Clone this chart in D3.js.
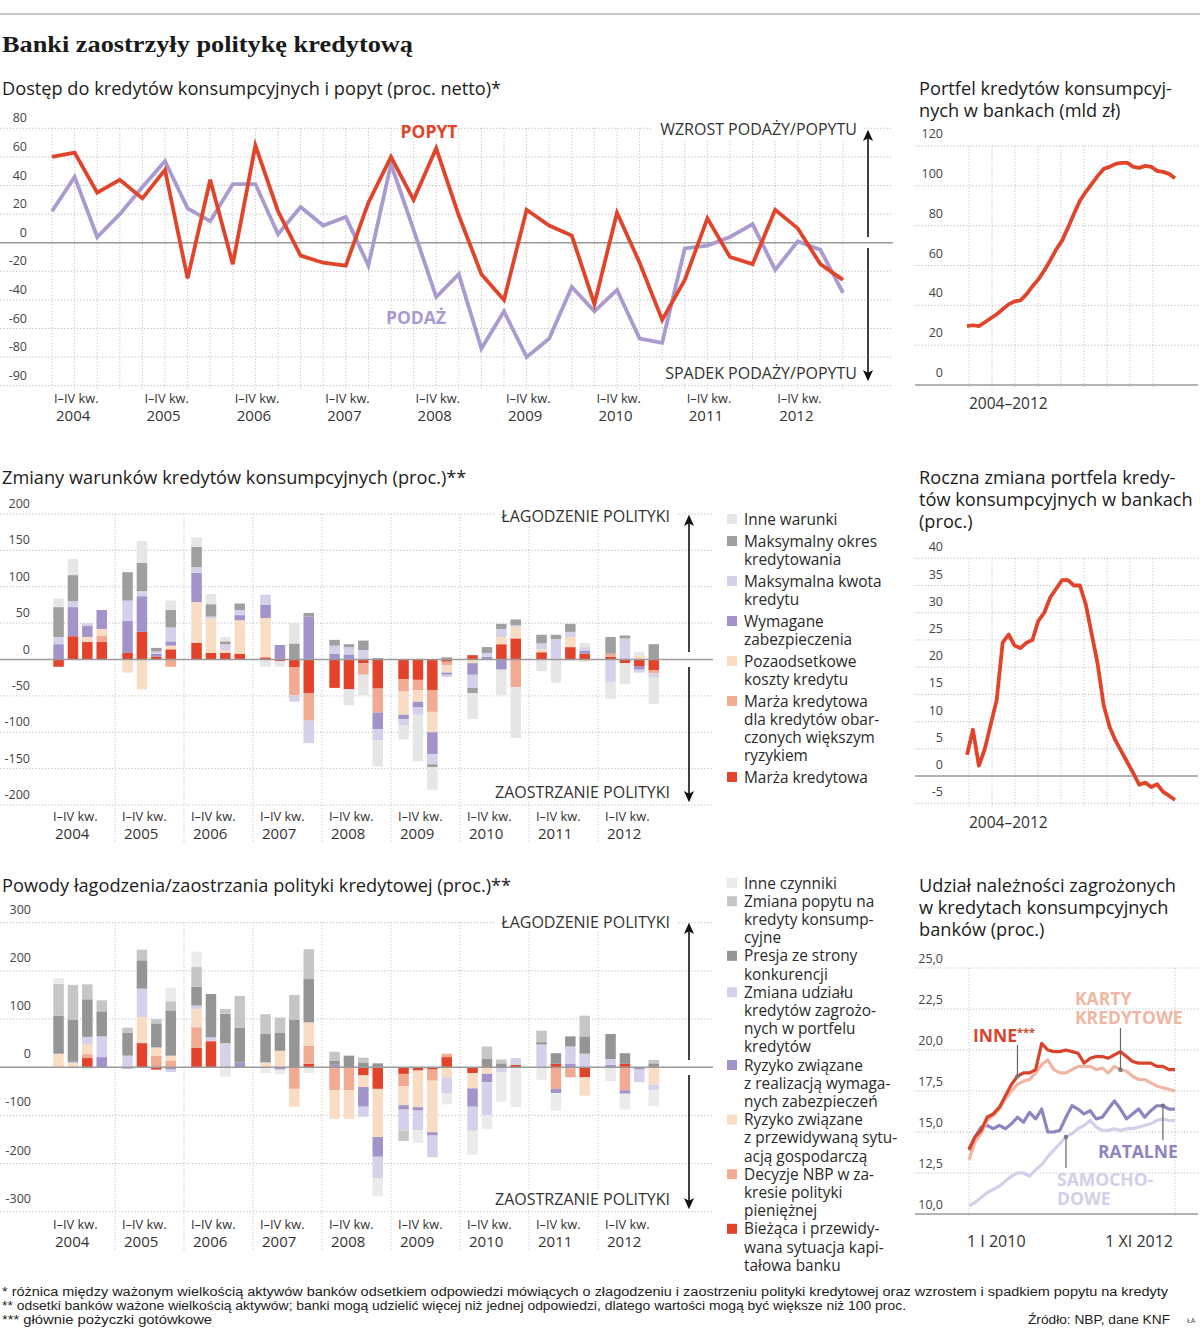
<!DOCTYPE html>
<html>
<head>
<meta charset="utf-8">
<script src="https://cdn.jsdelivr.net/npm/d3@7"></script>
<style>
body { margin: 0; background: #fff; }
svg text { font-family: "Open Sans", "Noto Sans", sans-serif; fill: #222; }
</style>
</head>
<body>
<div id="chart"></div>
<script>
// --- data ---
var years = ["2004", "2005", "2006", "2007", "2008", "2009", "2010", "2011", "2012"];
var quarterText = "I–IV kw.";

// chart 1: net % (quarters 2004Q1..2012Q4)
var popyt = [60, 63, 35, 44, 31, 51, -25, 44, -15, 68, 22, -9, -14, -16, 28, 60, 30, 66,
             19, -22, -40, 23, 12, 5, -43, 21, -14, -54, -26, 17, -10, -15, 23, 10, -15, -26];
var podaz = [22, 46, 4, 20, 39, 57, 24, 15, 41, 41, 6, 25, 12, 18, -16, 55, 9, -38,
             -22, -74, -48, -80, -67, -31, -48, -33, -67, -70, -4, -2, 4, 13, -19, 1, -5, -35];
var ticks1 = [80, 60, 40, 20, 0, -20, -40, -60, -80, -100];
var tickLabels1 = ["80", "60", "40", "20", "0", "-20", "-40", "-60", "-80", "-90"];

// chart 2: portfolio, bn zł (quarterly)
var portfel = [29.5, 30, 29.5, 31.5, 33.5, 35.5, 38, 40.5, 42, 42.5, 45.5, 49.5, 53, 57.5, 62.5, 68, 72.5, 79,
               86, 92.5, 97, 101, 105, 108.5, 109.5, 111, 111.5, 111.5, 109.5, 109, 110, 109.5, 107.5, 107, 106, 103.8];
var ticks2 = [0, 20, 40, 60, 80, 100, 120];

// chart 3: changes of credit terms (%)
var c3Keys = ["Marża kredytowa", "Marża ryzyko", "Pozaodsetkowe", "Zabezpieczenia", "Kwota", "Okres", "Inne"];
var c3Marza = [-10, 32, 24, 24, 9, 38, 4, 14, 23, 9, 9, 8, 3, -2, -11, -46, -39, -41, -5, -40,
               -27, -28, -42, -3, 6, 0, 21, 29, 10, 1, 17, 8, 4, -5, -9, -15];
var c3Ryzyko = [0, 0, 0, 9, 0, 0, 0, -10, 0, 0, 0, 0, 0, 0, -38, -38, 0, 0, -16, -33,
                -17, -14, -30, -5, 0, 0, 0, -38, 0, 0, 0, 0, 4, 0, 0, -4];
var c3Poza = [0, 0, 7, 9, -18, -41, 0, 5, 56, 47, 4, 46, 54, 0, 0, 0, 0, 0, 0, 0,
              -32, -16, -28, -10, -5, 0, 10, 16, 4, 0, 14, -3, 0, 0, 5, 0];
var c3Zab = [21, 40, 15, 26, 44, 49, 4, 6, 40, 0, 0, 7, 18, 20, 0, 59, 8, 7, 0, -23,
             -6, -8, -30, -3, -16, 4, -14, 0, 0, 0, 0, 4, 0, 0, -5, 0];
var c3Kwota = [10, 8, 4, 0, 28, 7, 3, 19, 8, 3, 8, 7, 14, 0, -9, -31, 11, 10, 13, -15,
               -8, -10, -14, -3, -18, 5, 11, 2, 8, 27, 7, 5, -31, 29, -4, -6];
var c3Okres = [41, 36, 0, 0, 39, 39, 5, 24, 28, 17, 4, 9, 0, 0, 22, 5, 8, 4, 13, 2,
               0, 0, -4, 3, -7, 8, 7, 8, 12, 6, 11, 0, 23, 4, 0, 21];
var c3Inne = [12, 22, 0, 0, 0, 30, 0, 13, 13, 14, 6, 0, -10, -8, 28, 0, 0, -22, -28, -36,
              -20, -64, -31, 0, -36, 0, -35, -70, -16, -32, -2, 6, -23, -29, 5, -36];
var ticks3 = [200, 150, 100, 50, 0, -50, -100, -150, -200];

// chart 4: yearly change of portfolio (%)
var roczna = [3.9, 8.5, 1.9, 5, 9.5, 14, 24.5, 26, 24, 23.5, 24.5, 25, 28.5, 30, 32.8, 34.4, 36, 36,
              35, 35, 31.5, 26, 20.5, 13, 9, 6.5, 4.5, 2.5, 0.5, -1.6, -1.2, -2, -1.5, -2.9, -3.6, -4.4];
var ticks4 = [40, 35, 30, 25, 20, 15, 10, 5, 0, -5];

// chart 5: reasons (%)
var c5Biezaca = [0, 0, 19, 0, 0, 50, -5, 0, 40, 54, 0, 0, 0, 0, 0, 7, 0, 0, -17, -45,
                 -14, -7, -5, 21, -12, 0, 0, 5, 0, 7, 0, -21, 0, 7, 0, 0];
var c5Nbp = [0, 0, 8, 0, 0, 0, 24, 14, 43, 0, 0, 0, 0, 0, -45, 38, -48, -48, 0, 0,
             -26, 0, -23, 7, 0, 0, 0, 0, 0, -45, -21, 0, 0, -48, 0, 0];
var c5Gosp = [28, 10, 21, 0, 0, 54, 17, 10, 38, 0, 0, 0, 10, 34, -37, 48, -59, -59, -24, -100,
              -39, -76, -107, -21, -32, -14, 0, 0, 0, 0, 0, -38, 0, 0, 0, -36];
var c5Zabezp = [0, 3, 0, 21, -3, 0, 0, -5, 0, 0, 0, 10, 0, -5, 0, 0, 5, 0, -41, -41,
                -9, -7, -7, 0, -38, -17, 0, 0, 0, -9, 7, 0, 5, -7, -5, 0];
var c5Udzial = [0, 0, 15, 43, 24, 59, 0, -5, 7, 8, 50, 0, 0, 0, 0, 0, 0, 0, -21, -45,
                -44, -41, -45, -34, -50, -69, -10, 14, 47, 0, 36, 28, 12, 0, -26, -11];
var c5Konk = [79, 86, 78, 52, 48, 59, 50, 94, 39, 90, 61, 72, 59, 38, 98, 90, 8, 24, 10, 8,
              0, 0, 0, 0, 0, 17, 8, 0, 5, 22, 21, 36, 52, 22, 0, 8];
var c5Popyt = [66, 72, 31, 23, 10, 22, 9, 19, 41, 0, 10, 66, 41, 31, 52, 62, 19, 0, 10, 0,
               -21, 0, 0, 0, 0, 26, 8, 0, 24, 0, 0, 43, 0, 0, 0, 7];
var c5Inne = [12, 0, -5, 0, 0, 0, 0, 28, 32, 0, -20, 0, -12, -10, 0, -12, 0, 0, 0, -37,
              0, -26, 0, -22, -50, -28, -62, -83, -26, -36, 0, 0, -29, -33, 0, -34];
var ticks5 = [300, 200, 100, 0, -100, -200, -300];

// chart 6: share of bad loans (%), monthly I 2010 .. XI 2012
var inne6 = [13.9, 14.7, 15.1, 15.9, 16.1, 16.5, 17.2, 17.9, 18.4, 18.6, 18.6, 18.8, 20.4, 20.0, 19.9, 19.9, 20.0, 19.9,
             19.8, 19.2, 19.5, 19.6, 19.6, 19.5, 19.7, 19.9, 19.6, 19.3, 19.2, 19.2, 19.2, 19.0, 19.0, 18.8, 18.8];
var karty6 = [13.3, 14.4, 14.9, 15.7, 16.0, 16.4, 17.0, 17.5, 17.9, 18.1, 18.2, 18.6, 19.1, 19.4, 18.8, 18.6, 18.6, 18.8,
              19.0, 19.0, 19.0, 18.8, 18.9, 18.6, 19.0, 18.8, 18.7, 18.4, 18.2, 18.2, 18.0, 17.8, 17.7, 17.6, 17.5];
var ratalne6 = [14.0, 14.7, 15.3, 15.4, 15.2, 15.4, 15.2, 15.5, 15.9, 15.6, 16.2, 15.8, 16.4, 15.0, 15.0, 15.1, 15.9, 16.6,
                16.4, 16.1, 16.3, 15.8, 15.9, 16.4, 16.9, 16.4, 15.8, 16.1, 16.4, 15.9, 16.3, 16.6, 16.6, 16.4, 16.4];
var samoch6 = [10.5, 10.7, 11.0, 11.3, 11.5, 11.7, 12.0, 12.3, 12.5, 12.5, 12.3, 12.7, 13.0, 13.5, 13.9, 14.3, 14.7, 14.9,
               15.2, 15.4, 15.7, 15.3, 15.1, 15.1, 15.2, 15.1, 15.2, 15.2, 15.3, 15.4, 15.5, 15.7, 15.8, 15.7, 15.7];
var ticks6 = [25, 22.5, 20, 17.5, 15, 12.5, 10];

// --- colours ---
var red = "#e2432a", salmon = "#f1ab93", peach = "#f8dcc4", purple = "#a294ca",
    lavender = "#d6d1ea", dark = "#9d9d9d", mid = "#c6c6c6", light = "#e6e6e6";

var svg = d3.select("#chart").append("svg")
    .attr("width", 1200)
    .attr("height", 1328)
    .style("background", "#fff");

var defs = svg.append("defs");
defs.append("marker").attr("id", "arr")
    .attr("viewBox", "0 -5 10 10").attr("refX", 8).attr("refY", 0)
    .attr("markerWidth", 7).attr("markerHeight", 7).attr("orient", "auto")
    .append("path").attr("d", "M0,-4.5L10,0L0,4.5L2.5,0Z").attr("fill", "#111");

// multi-line text as one element
function multiText(parent, lines, x, y, step) {
    var t = parent.append("text").attr("x", x).attr("y", y);
    lines.forEach(function (l, i) {
        t.append("tspan").attr("x", x).attr("dy", i === 0 ? 0 : step).text(l);
    });
    return t;
}

// top rule + title
svg.append("line").attr("x1", 0).attr("x2", 1200).attr("y1", 14).attr("y2", 14)
    .attr("stroke", "#c8c8c8").attr("stroke-width", 2);
svg.append("text").attr("x", 2).attr("y", 52)
    .attr("textLength", 411).attr("lengthAdjust", "spacingAndGlyphs")
    .style("font-family", "'Liberation Serif', 'DejaVu Serif', serif")
    .style("font-weight", "bold").style("font-size", "24px").style("fill", "#1a1a1a")
    .text("Banki zaostrzyły politykę kredytową");

function title(lines, x, y0) {
    multiText(svg, lines, x, y0, 22).style("font-size", "18.2px").style("fill", "#1c1c1c");
}

function hGrid(g, y, ticks, x0, x1, zeroVal) {
    g.selectAll(null).data(ticks).join("line")
        .attr("x1", x0).attr("x2", x1)
        .attr("y1", function (d) { return y(d); }).attr("y2", function (d) { return y(d); })
        .attr("stroke", function (d) { return d === zeroVal ? "#9a9a9a" : "#bdbdbd"; })
        .attr("stroke-width", function (d) { return d === zeroVal ? 1.5 : 1; })
        .attr("stroke-dasharray", function (d) { return d === zeroVal ? null : "1.2 2"; });
}

function vGrid(g, xs, y0, y1) {
    g.selectAll(null).data(xs).join("line")
        .attr("x1", function (d) { return d; }).attr("x2", function (d) { return d; })
        .attr("y1", y0).attr("y2", y1)
        .attr("stroke", "#c4c4c4").attr("stroke-dasharray", "1.2 2");
}

function yLabels(g, y, ticks, labels, xr, dy) {
    g.selectAll(null).data(ticks).join("text")
        .attr("x", xr).attr("y", function (d) { return y(d) - dy; })
        .attr("text-anchor", "end")
        .style("font-size", "12.5px").style("fill", "#444")
        .text(function (d, i) { return labels[i]; });
}

function yearLabels(g, xs, yA, yB) {
    xs.forEach(function (x, i) {
        var t = g.append("text").attr("x", x).attr("y", yA).style("fill", "#333");
        t.append("tspan").attr("x", x).style("font-size", "12.8px").text(quarterText);
        t.append("tspan").attr("x", x + 2).attr("dy", yB - yA).style("font-size", "15px").text(years[i]);
    });
}

function arrows(g, x, top, midA, midB, bottom) {
    g.append("line").attr("x1", x).attr("x2", x).attr("y1", midA).attr("y2", top)
        .attr("stroke", "#111").attr("stroke-width", 1.6).attr("marker-end", "url(#arr)");
    g.append("line").attr("x1", x).attr("x2", x).attr("y1", midB).attr("y2", bottom)
        .attr("stroke", "#111").attr("stroke-width", 1.6).attr("marker-end", "url(#arr)");
}

function sideText(g, t, x, y) {
    g.append("text").attr("x", x).attr("y", y).attr("text-anchor", "end")
        .style("font-size", "16px").style("fill", "#333").text(t);
}

// ============ chart 1 ============
title(["Dostęp do kredytów konsumpcyjnych i popyt (proc. netto)*"], 2, 95);
var g1 = svg.append("g");
var x1 = d3.scaleLinear().domain([0, 35]).range([52, 843]);
var y1 = d3.scaleLinear().domain([-100, 80]).range([385.7, 128.3]);
vGrid(g1, d3.range(36).map(x1), y1(80), 389);
hGrid(g1, y1, ticks1, 0, 893, 0);
yLabels(g1, y1, ticks1, tickLabels1, 27, 6);
yearLabels(g1, d3.range(9).map(function (k) { return x1(k * 4) + 2; }), 403, 421);

var line1 = d3.line().x(function (d, i) { return x1(i); }).y(function (d) { return y1(d); });
g1.append("path").datum(podaz).attr("d", line1).attr("fill", "none")
    .attr("stroke", "#a99bd0").attr("stroke-width", 3.8).attr("stroke-linejoin", "miter");
g1.append("path").datum(popyt).attr("d", line1).attr("fill", "none")
    .attr("stroke", "#e0452c").attr("stroke-width", 3.8).attr("stroke-linejoin", "miter");
g1.append("text").attr("x", 429).attr("y", 138).attr("text-anchor", "middle")
    .style("font-size", "17.5px").style("font-weight", "bold").style("fill", "#e0452c").text("POPYT");
g1.append("text").attr("x", 416).attr("y", 324).attr("text-anchor", "middle")
    .style("font-size", "17.5px").style("font-weight", "bold").style("fill", "#a99bd0").text("PODAŻ");
g1.append("rect").attr("x", 652).attr("y", 119).attr("width", 210).attr("height", 20).attr("fill", "#fff");
g1.append("rect").attr("x", 660).attr("y", 362).attr("width", 202).attr("height", 20).attr("fill", "#fff");
sideText(g1, "WZROST PODAŻY/POPYTU", 857, 135);
sideText(g1, "SPADEK PODAŻY/POPYTU", 857, 379);
arrows(g1, 868, 132, 237, 248, 379);

// ============ chart 2 ============
title(["Portfel kredytów konsumpcyj-", "nych w bankach (mld zł)"], 919, 95);
var g2 = svg.append("g");
var x2 = d3.scaleLinear().domain([0, 35]).range([967, 1175]);
var yr2 = d3.scaleLinear().domain([2004, 2013]).range([969, 1176]);
var y2 = d3.scaleLinear().domain([0, 120]).range([385, 146]);
vGrid(g2, d3.range(2004, 2013).map(yr2), y2(120), 389);
hGrid(g2, y2, ticks2, 915, 1198, 0);
yLabels(g2, y2, ticks2, ticks2.map(String), 943, 8);
g2.append("path").datum(portfel)
    .attr("d", d3.line().x(function (d, i) { return x2(i); }).y(function (d) { return y2(d); }))
    .attr("fill", "none").attr("stroke", "#e0452c").attr("stroke-width", 3.8).attr("stroke-linejoin", "round");
g2.append("text").attr("x", 969).attr("y", 409).style("font-size", "15.5px").style("fill", "#333").text("2004–2012");

// ============ shared bar layout ============
var xYear = d3.scaleBand().domain(years).range([46, 667]);
var xQ = d3.scaleBand().domain([0, 1, 2, 3]).range([7.3, 61]).paddingInner(0.27);

function stackedBars(g, keys, series, colors, y) {
    var rows = d3.range(36).map(function (i) {
        var r = { i: i };
        keys.forEach(function (k, j) { r[k] = series[j][i]; });
        return r;
    });
    var st = d3.stack().keys(keys).offset(d3.stackOffsetDiverging)(rows);
    g.selectAll("g.s").data(st).join("g").attr("class", "s")
        .attr("fill", function (d, j) { return colors[j]; })
        .selectAll("rect").data(function (d) { return d; }).join("rect")
        .attr("x", function (d) { return xYear(years[Math.floor(d.data.i / 4)]) + xQ(d.data.i % 4); })
        .attr("width", xQ.bandwidth())
        .attr("y", function (d) { return y(Math.max(d[0], d[1])); })
        .attr("height", function (d) { return Math.abs(y(d[0]) - y(d[1])); });
}

function legend(items, x, y0, step, gap) {
    var y = y0;
    items.forEach(function (it) {
        svg.append("rect").attr("x", x).attr("y", y - 10.5).attr("width", 10).attr("height", 10).attr("fill", it.c);
        multiText(svg, it.t, x + 17, y, step).style("font-size", "15.4px").style("fill", "#2a2a2a");
        y += it.t.length * step + gap;
    });
}

// ============ chart 3 ============
title(["Zmiany warunków kredytów konsumpcyjnych (proc.)**"], 2, 484);
var g3 = svg.append("g");
var y3 = d3.scaleLinear().domain([-200, 200]).range([805, 514]);
hGrid(g3, y3, ticks3.filter(function (d) { return d !== 0; }), 0, 713, 0);
vGrid(g3, years.slice(1).map(function (yy) { return xYear(yy); }), 514, 842);
yLabels(g3, y3, ticks3, ticks3.map(String), 30, 6);
stackedBars(g3, c3Keys, [c3Marza, c3Ryzyko, c3Poza, c3Zab, c3Kwota, c3Okres, c3Inne],
    [red, salmon, peach, purple, lavender, "#9f9f9f", light], y3);
hGrid(g3, y3, [0], 0, 713, 0);
yearLabels(g3, years.map(function (yy) { return xYear(yy) + 7; }), 821, 839);
g3.append("rect").attr("x", 496).attr("y", 507).attr("width", 182).attr("height", 19).attr("fill", "#fff");
g3.append("rect").attr("x", 490).attr("y", 782).attr("width", 188).attr("height", 19).attr("fill", "#fff");
sideText(g3, "ŁAGODZENIE POLITYKI", 670, 522);
sideText(g3, "ZAOSTRZANIE POLITYKI", 670, 798);
arrows(g3, 689, 517, 652, 667, 800);

legend([
    { c: light, t: ["Inne warunki"] },
    { c: "#9f9f9f", t: ["Maksymalny okres", "kredytowania"] },
    { c: lavender, t: ["Maksymalna kwota", "kredytu"] },
    { c: purple, t: ["Wymagane", "zabezpieczenia"] },
    { c: peach, t: ["Pozaodsetkowe", "koszty kredytu"] },
    { c: salmon, t: ["Marża kredytowa", "dla kredytów obar-", "czonych większym", "ryzykiem"] },
    { c: red, t: ["Marża kredytowa"] }
], 727, 524.5, 18, 4);

// ============ chart 4 ============
title(["Roczna zmiana portfela kredy-", "tów konsumpcyjnych w bankach", "(proc.)"], 919, 484);
var g4 = svg.append("g");
var x4 = d3.scaleLinear().domain([0, 35]).range([967, 1175]);
var y4 = d3.scaleLinear().domain([-5, 40]).range([803.3, 558.3]);
vGrid(g4, d3.range(2004, 2013).map(yr2), y4(40), 806);
hGrid(g4, y4, ticks4, 915, 1198, 0);
yLabels(g4, y4, ticks4, ticks4.map(String), 943, 7);
g4.append("path").datum(roczna)
    .attr("d", d3.line().x(function (d, i) { return x4(i); }).y(function (d) { return y4(d); }))
    .attr("fill", "none").attr("stroke", "#e0452c").attr("stroke-width", 3.8).attr("stroke-linejoin", "round");
g4.append("text").attr("x", 969).attr("y", 828).style("font-size", "15.5px").style("fill", "#333").text("2004–2012");

// ============ chart 5 ============
title(["Powody łagodzenia/zaostrzania polityki kredytowej (proc.)**"], 2, 892);
var g5 = svg.append("g");
var y5 = d3.scaleLinear().domain([-300, 300]).range([1211.7, 922.7]);
hGrid(g5, y5, ticks5.filter(function (d) { return d !== 0; }), 0, 713, 0);
vGrid(g5, years.slice(1).map(function (yy) { return xYear(yy); }), 922, 1250);
yLabels(g5, y5, ticks5, ticks5.map(String), 31, 9);
stackedBars(g5, ["Bieżąca", "NBP", "Gospodarcza", "Zabezpieczenia", "Udział", "Konkurencja", "Popyt", "Inne"],
    [c5Biezaca, c5Nbp, c5Gosp, c5Zabezp, c5Udzial, c5Konk, c5Popyt, c5Inne],
    [red, salmon, peach, purple, lavender, "#959595", mid, "#ebebeb"], y5);
hGrid(g5, y5, [0], 0, 713, 0);
yearLabels(g5, years.map(function (yy) { return xYear(yy) + 7; }), 1229, 1247);
g5.append("rect").attr("x", 496).attr("y", 913).attr("width", 182).attr("height", 19).attr("fill", "#fff");
g5.append("rect").attr("x", 490).attr("y", 1189).attr("width", 188).attr("height", 19).attr("fill", "#fff");
sideText(g5, "ŁAGODZENIE POLITYKI", 670, 928);
sideText(g5, "ZAOSTRZANIE POLITYKI", 670, 1205);
arrows(g5, 689, 925, 1060, 1075, 1207);

legend([
    { c: "#ebebeb", t: ["Inne czynniki"] },
    { c: mid, t: ["Zmiana popytu na", "kredyty konsump-", "cyjne"] },
    { c: "#959595", t: ["Presja ze strony", "konkurencji"] },
    { c: lavender, t: ["Zmiana udziału", "kredytów zagrożo-", "nych w portfelu", "kredytów"] },
    { c: purple, t: ["Ryzyko związane", "z realizacją wymaga-", "nych zabezpieczeń"] },
    { c: peach, t: ["Ryzyko związane", "z przewidywaną sytu-", "acją gospodarczą"] },
    { c: salmon, t: ["Decyzje NBP w za-", "kresie polityki", "pieniężnej"] },
    { c: red, t: ["Bieżąca i przewidy-", "wana sytuacja kapi-", "tałowa banku"] }
], 727, 888.5, 18.2, 0);

// ============ chart 6 ============
title(["Udział należności zagrożonych", "w kredytach konsumpcyjnych", "banków (proc.)"], 919, 892);
var g6 = svg.append("g");
var x6 = d3.scaleLinear().domain([0, 34]).range([969, 1175]);
var y6 = d3.scaleLinear().domain([10, 25]).range([1214, 968]);
vGrid(g6, [x6(0), x6(34)], y6(25), 1216);
hGrid(g6, y6, ticks6, 915, 1198, 10);
yLabels(g6, y6, ticks6, ticks6.map(function (d) { return d3.format(".1f")(d).replace(".", ","); }), 943, 5);
var line6 = d3.line().x(function (d, i) { return x6(i); }).y(function (d) { return y6(d); });
[[samoch6, "#d3cee9"], [ratalne6, "#8e84c0"], [karty6, "#f0b6a2"], [inne6, "#d9432b"]].forEach(function (s) {
    g6.append("path").datum(s[0]).attr("d", line6).attr("fill", "none")
        .attr("stroke", s[1]).attr("stroke-width", 3.2).attr("stroke-linejoin", "round");
});
// leaders
function leader(series, idx, yEnd) {
    var px = x6(idx), py = y6(series[idx]);
    g6.append("line").attr("x1", px).attr("x2", px).attr("y1", py).attr("y2", yEnd)
        .attr("stroke", "#666").attr("stroke-width", 1.2);
    g6.append("circle").attr("cx", px).attr("cy", py).attr("r", 2.2).attr("fill", "#777");
}
leader(inne6, 8, 1045);
leader(karty6, 25, 1028);
leader(ratalne6, 32, 1140);
leader(samoch6, 16, 1168);
var inneLbl = g6.append("text").attr("x", 973).attr("y", 1042)
    .style("font-size", "17.5px").style("font-weight", "bold").style("fill", "#d9432b");
inneLbl.append("tspan").text("INNE");
inneLbl.append("tspan").attr("dy", -6).style("font-size", "11px").style("fill", "#d9432b").text("***");
multiText(g6, ["KARTY", "KREDYTOWE"], 1075, 1005, 19)
    .style("font-size", "17.5px").style("font-weight", "bold").style("fill", "#f0b6a2");
g6.append("text").attr("x", 1098).attr("y", 1158)
    .style("font-size", "17.5px").style("font-weight", "bold").style("fill", "#8e84c0").text("RATALNE");
multiText(g6, ["SAMOCHO-", "DOWE"], 1057, 1186, 19)
    .style("font-size", "17.5px").style("font-weight", "bold").style("fill", "#d3cee9");
g6.append("text").attr("x", 967).attr("y", 1247).style("font-size", "16px").style("fill", "#333").text("1 I 2010");
g6.append("text").attr("x", 1173).attr("y", 1247).attr("text-anchor", "end")
    .style("font-size", "16px").style("fill", "#333").text("1 XI 2012");

// ============ footer ============
var notes = [
    ["* różnica między ważonym wielkością aktywów banków odsetkiem odpowiedzi mówiących o złagodzeniu i zaostrzeniu polityki kredytowej oraz wzrostem i spadkiem popytu na kredyty", 1296, 1166],
    ["** odsetki banków ważone wielkością aktywów; banki mogą udzielić więcej niż jednej odpowiedzi, dlatego wartości mogą być większe niż 100 proc.", 1310, 904],
    ["*** głównie pożyczki gotówkowe", 1324, 210]
];
notes.forEach(function (n) {
    svg.append("text").attr("x", 2).attr("y", n[1])
        .attr("textLength", n[2]).attr("lengthAdjust", "spacingAndGlyphs")
        .style("font-family", "'Liberation Sans Narrow', 'Liberation Sans', sans-serif")
        .style("font-size", "12.5px").style("fill", "#222").text(n[0]);
});
svg.append("text").attr("x", 1170).attr("y", 1324).attr("text-anchor", "end")
    .attr("textLength", 142).attr("lengthAdjust", "spacingAndGlyphs")
    .style("font-family", "'Liberation Sans Narrow', 'Liberation Sans', sans-serif")
    .style("font-size", "12.5px").style("fill", "#222").text("Źródło: NBP, dane KNF");
svg.append("text").attr("x", 1187).attr("y", 1323)
    .style("font-size", "7px").style("fill", "#444").text("ŁA");
</script>
</body>
</html>
